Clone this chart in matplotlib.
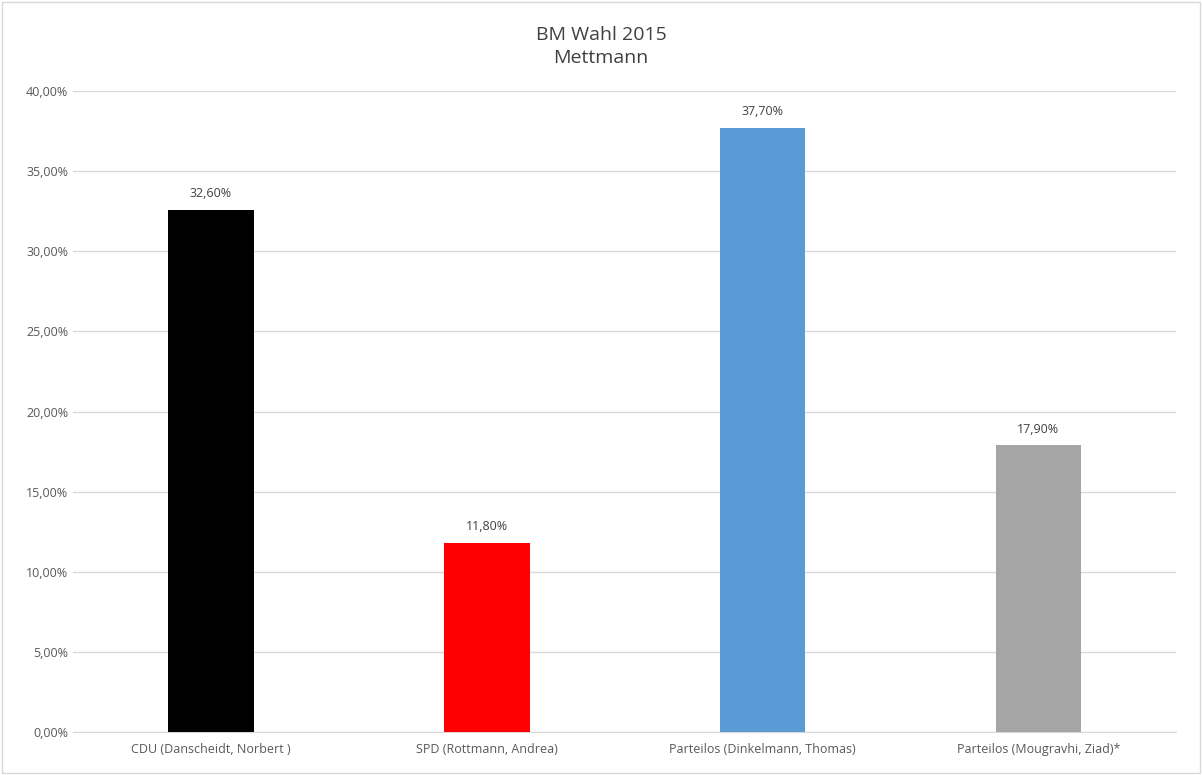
import numpy as np
import matplotlib.pyplot as plt
from matplotlib.ticker import FuncFormatter

plt.rcParams['font.family'] = ['Open Sans', 'DejaVu Sans']

kandidaten = ['CDU (Danscheidt, Norbert )', 'SPD (Rottmann, Andrea)',
              'Parteilos (Dinkelmann, Thomas)', 'Parteilos (Mougravhi, Ziad)*']
anteile = [32.6, 11.8, 37.7, 17.9]
farben = ['#000000', '#FF0000', '#5B9BD5', '#A5A5A5']

fig = plt.figure(figsize=(12.02, 7.75), dpi=100)
fig.patches.append(plt.Rectangle((0.002, 0.002), 0.996, 0.996, transform=fig.transFigure,
                                 fill=False, edgecolor='#D9D9D9', linewidth=1))
ax = fig.add_axes([0.0607, 0.0555, 0.918, 0.827])

x = np.arange(len(kandidaten))
bars = ax.bar(x, anteile, width=0.31, color=farben, zorder=3)

for b, v in zip(bars, anteile):
    ax.text(b.get_x() + b.get_width() / 2, v + 0.6, ('%.2f%%' % v).replace('.', ','),
            ha='center', va='bottom', fontsize=9, color='#404040')

ax.set_xlim(-0.5, len(kandidaten) - 0.5)
ax.set_ylim(0, 40)
ax.set_yticks(np.arange(0, 41, 5))
ax.yaxis.set_major_formatter(FuncFormatter(lambda v, p: ('%.2f%%' % v).replace('.', ',')))
ax.set_xticks(x)
ax.set_xticklabels(kandidaten)
ax.tick_params(axis='both', length=0, labelsize=9, labelcolor='#595959')
ax.tick_params(axis='x', pad=8)
ax.grid(axis='y', color='#D9D9D9', linewidth=1, zorder=0)
for s in ['top', 'right', 'left']:
    ax.spines[s].set_visible(False)
ax.spines['bottom'].set_color('#D9D9D9')

fig.text(0.5, 0.955, 'BM Wahl 2015', ha='center', va='center', fontsize=14, color='#404040')
fig.text(0.5, 0.925, 'Mettmann', ha='center', va='center', fontsize=14, color='#404040')

fig.savefig('out.png', dpi=100)
